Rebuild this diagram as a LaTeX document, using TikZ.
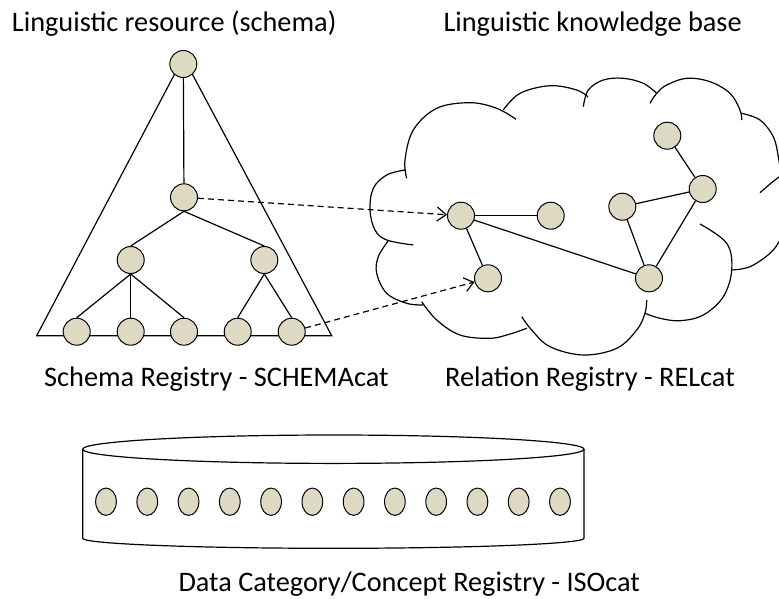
\documentclass[tikz,border=0pt]{standalone}
\usepackage{fontspec}
\setmainfont{Carlito}
\usetikzlibrary{arrows.meta,shapes.geometric}
\definecolor{nodetan}{RGB}{221,217,195}
\begin{document}
\begin{tikzpicture}[x=1pt,y=-1pt,
  dot/.style={circle,draw=black,fill=nodetan,line width=1pt,minimum size=27pt,inner sep=0pt},
  disk/.style={ellipse,draw=black,fill=nodetan,line width=1pt,minimum width=20.7pt,minimum height=27.3pt,inner sep=0pt},
  edge/.style={line width=1.2pt},
  outline/.style={line width=1.2pt},
  puff/.style={line width=1.2pt,smooth,tension=0.6},
  lbl/.style={font=\fontsize{28.3}{32}\selectfont,anchor=base west,inner sep=0pt},
  link/.style={line width=1.2pt,dash pattern=on 6pt off 4pt,-{Straight Barb[length=9pt,width=14pt]}}
]
\useasboundingbox (0,0) rectangle (779,598);
\clip (0,0) rectangle (779,598);

% ---------- labels ----------
\node[lbl] (t1) at (11.7,31.7) {Linguistic resource (schema)};
\node[lbl] (t2) at (443.3,31.7) {Linguistic knowledge base};
\node[lbl] (t3) at (44,386.7) {Schema Registry - SCHEMAcat};
\node[lbl] (t4) at (445,386.7) {Relation Registry - RELcat};
\node[lbl] (t5) at (178.3,591) {Data Category/Concept Registry - ISOcat};

% ---------- schema triangle ----------
\draw[outline] (36.7,335.7) -- (183.4,57.4) -- (331.7,335.7) -- cycle;

\node[dot] (top) at (183.3,64) {};
\node[dot] (mid) at (184,197.3) {};
\node[dot] (la)  at (130.7,260) {};
\node[dot] (lb)  at (264.3,260) {};
\node[dot] (b1)  at (76.7,331.7) {};
\node[dot] (b2)  at (130.7,331.7) {};
\node[dot] (b3)  at (184,331.7) {};
\node[dot] (b4)  at (237.7,331.7) {};
\node[dot] (b5)  at (291.7,331.7) {};

\draw[edge] (top) -- (mid);
\draw[edge] (mid.south) -- (la.north);
\draw[edge] (mid.south) -- (lb.north);
\draw[edge] (la.south) -- (b1.north);
\draw[edge] (la.south) -- (b2.north);
\draw[edge] (la.south) -- (b3.north);
\draw[edge] (lb.south) -- (b4.north);
\draw[edge] (lb.south) -- (b5.north);

% ---------- cloud ----------
\draw[puff] plot coordinates {(406.7,178.3) (405,160) (413.3,130) (436.7,108.3) (470,102.7) (496.7,108.3) (516,119.3)};
\draw[puff] plot coordinates {(503.3,110) (520,93.3) (550,85.7) (576.7,90) (588,97)};
\draw[puff] plot coordinates {(656.7,93.3) (643.3,83.3) (623.3,78.3) (603.3,80) (588.3,90) (583.3,106.7)};
\draw[puff] plot coordinates {(741.7,120) (740,110) (730,93.3) (710,81.7) (686.7,78.3) (666.7,85) (656.7,93.3) (650,103.3)};
\draw[puff] plot coordinates {(741.7,113.3) (760,120) (773.3,136.7) (778.3,156.7) (781,178) (783,200)};
\draw[puff] plot coordinates {(760,192.7) (770,184) (779,177) (786,172)};
\draw[puff] plot coordinates {(731.7,270) (750,266.7) (770,253.3) (780,240) (786,225)};
\draw[puff] plot coordinates {(700,224) (726.7,243.3) (731.7,270) (723.3,296.7) (703.3,315) (680,320.7) (660,318.3) (645,313.3)};
\draw[puff] plot coordinates {(646.7,300) (645,313.3) (636.7,330) (616.7,348.3) (583.3,355) (550,346.7) (531.7,330) (521.7,316.7)};
\draw[puff] plot coordinates {(421.7,301.7) (436.7,320) (460,335) (490,338.3) (510,334) (526.7,328.3)};
\draw[puff] plot coordinates {(388.3,240.7) (378.3,256.7) (376.7,273.3) (386.7,293.3) (406.7,303.3) (423.3,305)};
\draw[puff] plot coordinates {(405,170) (386.7,175) (373.3,188.3) (370,210) (375,230) (386.7,240) (413.3,245)};

\node[dot] (A) at (461,215.7) {};
\node[dot] (B) at (550.7,215.7) {};
\node[dot] (C) at (488,278.3) {};
\node[dot] (D) at (622.3,206.7) {};
\node[dot] (E) at (667.3,135.7) {};
\node[dot] (F) at (702.7,189) {};
\node[dot] (G) at (649,278.3) {};

\draw[edge] (A) -- (B);
\draw[edge] (A) -- (C);
\draw[edge] (A) -- (G);
\draw[edge] (D) -- (G);
\draw[edge] (D) -- (F);
\draw[edge] (F) -- (G);
\draw[edge] (E) -- (F);

% ---------- dashed links ----------
\draw[link] (mid) -- (A);
\draw[link] (b5) -- (C);

% ---------- ISOcat cylinder ----------
\draw[outline] (82.7,449.2) -- (82.7,538.3)
  arc[start angle=180,end angle=0,x radius=250.65,y radius=10] -- (584,449.2);
\draw[outline] (333.35,449.2) ellipse[x radius=250.65,y radius=14.2];
\foreach \i in {0,...,11} {
  \node[disk] (d\i) at ({106+41.27*\i},501.7) {};
}
\end{tikzpicture}
\end{document}
